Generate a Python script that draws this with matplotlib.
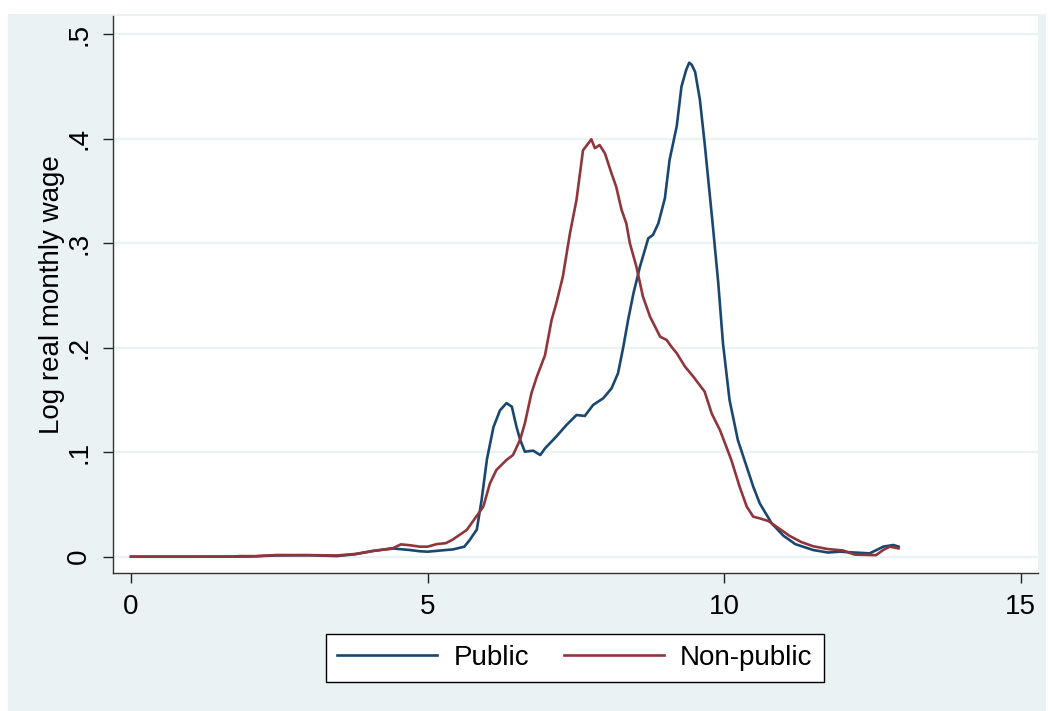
import matplotlib
matplotlib.use('Agg')
import matplotlib.pyplot as plt
from matplotlib.patches import Rectangle

plt.rcParams['font.family'] = ['Liberation Sans', 'DejaVu Sans']

# kernel density
public_x = [0, 1.0, 2.0, 2.45, 3.0, 3.47, 3.78, 4.09, 4.39, 4.7, 4.87, 5.0, 5.31, 5.43,
            5.62, 5.71, 5.83, 5.91, 6.0, 6.11, 6.22, 6.33, 6.42, 6.50, 6.56, 6.64, 6.78,
            6.90, 6.98, 7.17, 7.34, 7.51, 7.65, 7.79, 7.96, 8.10, 8.21, 8.30, 8.38, 8.47,
            8.58, 8.72, 8.80, 8.89, 9.0, 9.08, 9.20, 9.28, 9.36, 9.41, 9.45, 9.51, 9.59,
            9.67, 9.81, 9.90, 9.98, 10.09, 10.23, 10.49, 10.60, 10.8, 11.0, 11.2, 11.5,
            11.75, 11.95, 12.2, 12.45, 12.57, 12.68, 12.85, 12.94]
public_y = [0, 0, 0.0002, 0.0012, 0.0014, 0.0006, 0.0024, 0.0055, 0.008, 0.0064, 0.0052,
            0.0048, 0.0064, 0.007, 0.0096, 0.016, 0.026, 0.054, 0.093, 0.124, 0.140, 0.147,
            0.1436, 0.124, 0.112, 0.1005, 0.1015, 0.0973, 0.1037, 0.115, 0.126, 0.1356,
            0.1347, 0.1452, 0.1516, 0.161, 0.1755, 0.201, 0.2265, 0.252, 0.2776, 0.3047,
            0.308, 0.319, 0.343, 0.380, 0.412, 0.45, 0.466, 0.4728, 0.471, 0.464, 0.4375,
            0.396, 0.316, 0.262, 0.204, 0.150, 0.1117, 0.067, 0.051, 0.032, 0.020, 0.012,
            0.0064, 0.004, 0.0048, 0.004, 0.0032, 0.0064, 0.0096, 0.0112, 0.0096]

nonpublic_x = [0, 1.0, 1.7, 1.84, 2.1, 2.45, 3.0, 3.47, 3.78, 4.09, 4.39, 4.55, 4.7, 4.87,
               5.0, 5.15, 5.31, 5.43, 5.66, 5.86, 5.94, 6.05, 6.16, 6.33, 6.44, 6.56, 6.64,
               6.75, 6.84, 6.98, 7.09, 7.17, 7.28, 7.40, 7.51, 7.62, 7.71, 7.76, 7.82, 7.90,
               7.99, 8.10, 8.18, 8.27, 8.35, 8.41, 8.52, 8.63, 8.75, 8.92, 9.03, 9.11, 9.20,
               9.34, 9.48, 9.67, 9.79, 9.93, 10.12, 10.26, 10.38, 10.49, 10.60, 10.75, 10.9,
               11.1, 11.3, 11.5, 11.75, 12.0, 12.2, 12.56, 12.68, 12.79, 12.94]
nonpublic_y = [0, 0, 0, 0.0006, 0.0005, 0.0016, 0.0015, 0.0012, 0.0026, 0.0057, 0.0075,
               0.0118, 0.011, 0.0096, 0.0096, 0.012, 0.013, 0.0166, 0.0256, 0.0415, 0.048,
               0.070, 0.083, 0.0926, 0.0973, 0.112, 0.1277, 0.1564, 0.172, 0.193, 0.2265,
               0.2425, 0.268, 0.3095, 0.3414, 0.389, 0.3956, 0.3995, 0.391, 0.394, 0.386,
               0.367, 0.354, 0.332, 0.319, 0.300, 0.2776, 0.249, 0.2297, 0.2106, 0.2074,
               0.201, 0.1947, 0.1819, 0.1723, 0.158, 0.137, 0.121, 0.0926, 0.067, 0.048,
               0.0383, 0.0367, 0.034, 0.028, 0.020, 0.014, 0.010, 0.0073, 0.006, 0.002,
               0.0015, 0.0064, 0.0096, 0.008]

x_ticks = [0, 5, 10, 15]
y_ticks = [0, 0.1, 0.2, 0.3, 0.4, 0.5]
y_ticklabels = ['0', '.1', '.2', '.3', '.4', '.5']

BG = '#EAF2F3'
BLUE = '#1A476F'
RED = '#90353B'

fig = plt.figure(figsize=(10.52, 7.11), dpi=100, facecolor='white')
bg = Rectangle((8 / 1052, 0), (1046 - 8) / 1052, 1 - 14 / 711,
               transform=fig.transFigure, facecolor=BG, edgecolor='none', zorder=-10)
fig.add_artist(bg)

ax = fig.add_axes([113 / 1052, 1 - 573 / 711, (1038 - 113) / 1052, (573 - 16) / 711])
ax.set_facecolor('white')

for yv in y_ticks:
    ax.axhline(yv, color=BG, linewidth=1.6, zorder=1)

ax.plot(public_x, public_y, color=BLUE, linewidth=1.9, label='Public', zorder=3)
ax.plot(nonpublic_x, nonpublic_y, color=RED, linewidth=1.9, label='Non-public', zorder=3)

ax.set_xlim(-0.303, 15.29)
ax.set_ylim(-0.0156, 0.5175)
ax.set_xticks(x_ticks)
ax.set_xticklabels([str(v) for v in x_ticks])
ax.set_yticks(y_ticks)
ax.set_yticklabels(y_ticklabels, rotation=90, va='center')
ax.tick_params(axis='both', labelsize=20, length=7, width=1, color='#222222', pad=8)
for side in ['top', 'right']:
    ax.spines[side].set_visible(False)
for side in ['left', 'bottom']:
    ax.spines[side].set_color('#333333')
    ax.spines[side].set_linewidth(1)

ax.set_ylabel('Log real monthly wage', fontsize=20, labelpad=1)

leg = ax.legend(loc='center', bbox_to_anchor=(575 / 1052, 1 - 658 / 711),
                bbox_transform=fig.transFigure, ncol=2, fontsize=20, frameon=True,
                fancybox=False, edgecolor='black', handlelength=3.6, handletextpad=0.58,
                columnspacing=1.26, borderpad=0.4)
leg.get_frame().set_linewidth(1)
leg.get_frame().set_alpha(1)

fig.savefig('out.png', dpi=100, facecolor=fig.get_facecolor())
